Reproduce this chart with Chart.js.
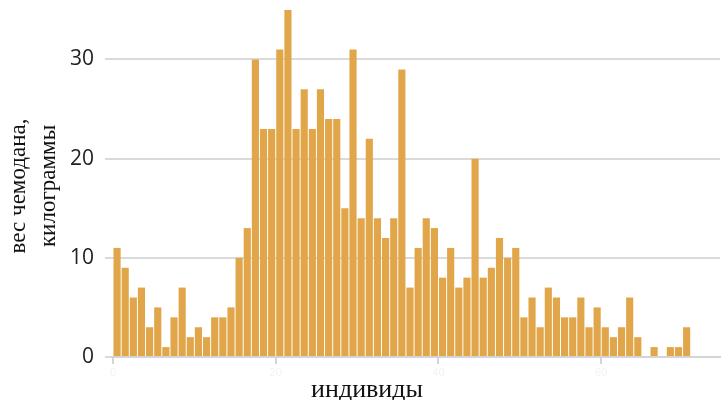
<!DOCTYPE html>
<html>
<head>
<meta charset="utf-8">
<script src="https://cdn.jsdelivr.net/npm/chart.js@4"></script>
<style>
  body { margin: 0; background: #fff; }
  #wrap { width: 722px; height: 400px; }
</style>
</head>
<body>
<div id="wrap"><canvas id="myChart" width="722" height="400"></canvas></div>
<script>
// suitcase weight per individual, kg
var weights = [11, 9, 6, 7, 3, 5, 1, 4, 7, 2,
    3, 2, 4, 4, 5, 10, 13, 30, 23, 23,
    31, 35, 23, 27, 23, 27, 24, 24, 15, 31,
    14, 22, 14, 12, 14, 29, 7, 11, 14, 13,
    8, 11, 7, 8, 20, 8, 9, 12, 10, 11,
    4, 6, 3, 7, 6, 4, 4, 6, 3, 5,
    3, 2, 3, 6, 2, 0, 1, 0, 1, 1, 3];
var yStep = 10;
var xStep = 20;
var xTitle = 'индивиды';
var yTitle = ['вес чемодана,', 'килограммы'];

// bars sit between index i and i+1 on a linear axis
var points = weights.map(function (w, i) { return {x: i + 0.5, y: w}; });

const axisTitles = {
    id: 'axisTitles',
    afterDraw(chart) {
        const ctx = chart.ctx;
        ctx.save();
        ctx.fillStyle = '#111';
        ctx.textAlign = 'center';
        ctx.textBaseline = 'middle';
        ctx.font = '26px "Liberation Serif"';
        ctx.fillText(xTitle, 367, 390);
        ctx.font = '23px "Liberation Serif"';
        ctx.translate(0, 186);
        ctx.rotate(-Math.PI / 2);
        ctx.fillText(yTitle[0], 0, 19);
        ctx.fillText(yTitle[1], 0, 49);
        ctx.restore();
    }
};

var config = {
    type: 'bar',
    data: {
        datasets: [{
            data: points,
            backgroundColor: '#e2a64a',
            barPercentage: 0.88,
            categoryPercentage: 1
        }]
    },
    options: {
        responsive: false,
        animation: false,
        layout: {padding: {top: 0, right: 2, left: 0, bottom: 0}},
        plugins: {legend: {display: false}, tooltip: {enabled: false}},
        scales: {
            x: {
                type: 'linear',
                offset: false,
                min: 0,
                max: 74.6,
                afterFit: function (s) {
                    s.height = 43;
                    s.paddingLeft = 0;
                    s.paddingRight = 0;
                },
                ticks: {stepSize: xStep, includeBounds: false, autoSkip: false,
                    color: '#f2f2f2', font: {size: 11}, padding: 2},
                grid: {offset: false, drawOnChartArea: false, tickLength: 7, color: '#d4d4d4', lineWidth: 2},
                border: {color: '#d4d4d4', width: 2}
            },
            y: {
                min: 0,
                max: 36,
                afterFit: function (s) {
                    s.width = 113;
                    s.paddingTop = 0;
                    s.paddingBottom = 0;
                },
                ticks: {stepSize: yStep, includeBounds: false,
                    color: '#222', font: {family: '"Open Sans"', size: 21}, padding: 11},
                grid: {color: '#dadada', lineWidth: 2, tickLength: 8},
                border: {display: false}
            }
        }
    },
    plugins: [axisTitles]
};

var myChart = new Chart(document.getElementById('myChart'), config);
</script>
</body>
</html>
